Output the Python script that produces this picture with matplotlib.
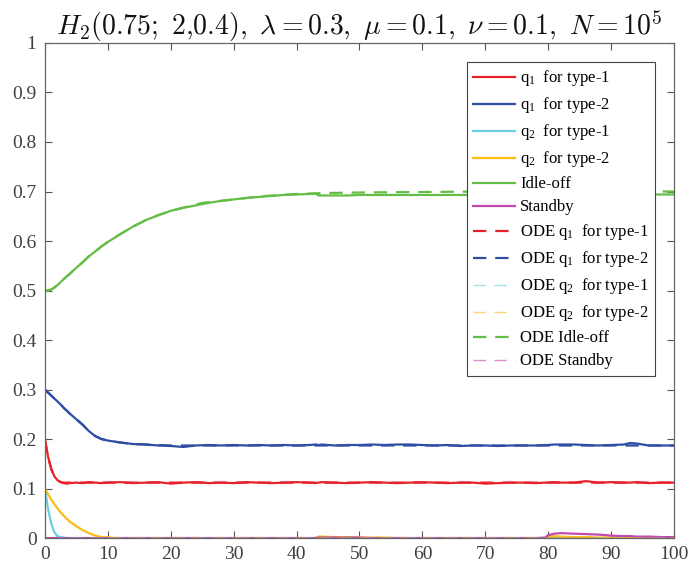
import matplotlib
matplotlib.use("Agg")
import matplotlib.pyplot as plt

# simulation traces
t_sim = [0, 0.5, 1, 1.5, 2, 2.5, 3, 3.5, 4, 5, 6, 7, 8, 9, 10, 12, 14, 16, 18, 20,
         22, 24, 26, 28, 30, 32, 34, 36, 38, 40, 42, 43, 43.5, 44, 46, 48, 50, 52, 54,
         56, 58, 60, 62, 64, 66, 68, 70, 72, 74, 76, 78, 79.5, 80, 81, 82, 84, 86,
         88, 90, 92, 93, 94, 96, 98, 100]
q1_type1 = [0.200, 0.165, 0.140, 0.125, 0.117, 0.113, 0.111, 0.110, 0.111, 0.112, 0.111, 0.113, 0.112, 0.111, 0.112, 0.113, 0.111, 0.112, 0.113, 0.110,
            0.112, 0.113, 0.111, 0.112, 0.111, 0.113, 0.112, 0.111, 0.112, 0.113, 0.112, 0.111, 0.112, 0.113, 0.112, 0.111, 0.112, 0.113, 0.112,
            0.111, 0.112, 0.113, 0.112, 0.111, 0.112, 0.112, 0.110, 0.111, 0.112, 0.112, 0.111, 0.112, 0.112, 0.113, 0.112, 0.112, 0.115,
            0.112, 0.113, 0.112, 0.112, 0.113, 0.111, 0.112, 0.112]
q1_type2 = [0.300, 0.294, 0.288, 0.282, 0.276, 0.270, 0.263, 0.257, 0.251, 0.240, 0.229, 0.216, 0.206, 0.200, 0.197, 0.193, 0.190, 0.189, 0.187, 0.186,
            0.184, 0.187, 0.188, 0.187, 0.188, 0.187, 0.188, 0.187, 0.188, 0.187, 0.188, 0.189, 0.188, 0.189, 0.187, 0.188, 0.188, 0.189, 0.188,
            0.189, 0.189, 0.188, 0.187, 0.188, 0.186, 0.187, 0.187, 0.186, 0.187, 0.187, 0.187, 0.188, 0.188, 0.189, 0.189, 0.189, 0.188,
            0.187, 0.188, 0.189, 0.192, 0.191, 0.187, 0.187, 0.187]
q2_type1 = [0.100, 0.060, 0.030, 0.012, 0.004, 0.002, 0.001, 0.000, 0.000, 0.000, 0.000, 0.000, 0.000, 0.000, 0.000, 0.000, 0.000, 0.000, 0.000, 0.000,
            0.000, 0.000, 0.000, 0.000, 0.000, 0.000, 0.000, 0.000, 0.000, 0.000, 0.000, 0.000, 0.000, 0.000, 0.000, 0.000, 0.000, 0.000, 0.000,
            0.000, 0.000, 0.000, 0.000, 0.000, 0.000, 0.000, 0.000, 0.000, 0.000, 0.000, 0.000, 0.000, 0.000, 0.000, 0.000, 0.000, 0.000,
            0.000, 0.000, 0.000, 0.000, 0.000, 0.000, 0.000, 0.000]
q2_type2 = [0.100, 0.089, 0.078, 0.069, 0.060, 0.052, 0.045, 0.039, 0.033, 0.024, 0.016, 0.010, 0.005, 0.002, 0.001, 0.000, 0.000, 0.000, 0.000, 0.000,
            0.000, 0.000, 0.000, 0.000, 0.000, 0.000, 0.000, 0.000, 0.000, 0.000, 0.000, 0.000, 0.003, 0.003, 0.002, 0.002, 0.001, 0.001, 0.001,
            0.000, 0.000, 0.000, 0.000, 0.000, 0.000, 0.000, 0.000, 0.000, 0.000, 0.000, 0.000, 0.000, 0.003, 0.004, 0.003, 0.002, 0.002,
            0.001, 0.001, 0.001, 0.000, 0.000, 0.000, 0.000, 0.000]
idle_off = [0.500, 0.500, 0.502, 0.506, 0.511, 0.517, 0.523, 0.529, 0.534, 0.546, 0.557, 0.569, 0.579, 0.589, 0.598, 0.614, 0.629, 0.642, 0.652, 0.661,
            0.667, 0.672, 0.677, 0.681, 0.684, 0.687, 0.689, 0.691, 0.693, 0.694, 0.695, 0.696, 0.692, 0.692, 0.692, 0.692, 0.693, 0.693, 0.693,
            0.693, 0.693, 0.693, 0.693, 0.693, 0.693, 0.693, 0.693, 0.693, 0.693, 0.694, 0.694, 0.694, 0.694, 0.694, 0.694, 0.694, 0.694,
            0.694, 0.694, 0.694, 0.694, 0.694, 0.694, 0.694, 0.694]
standby = [0.000, 0.000, 0.000, 0.000, 0.000, 0.000, 0.000, 0.000, 0.000, 0.000, 0.000, 0.000, 0.000, 0.000, 0.000, 0.000, 0.000, 0.000, 0.000, 0.000,
           0.000, 0.000, 0.000, 0.000, 0.000, 0.000, 0.000, 0.000, 0.000, 0.000, 0.000, 0.000, 0.001, 0.001, 0.001, 0.001, 0.001, 0.000, 0.000,
           0.000, 0.000, 0.000, 0.000, 0.000, 0.000, 0.000, 0.000, 0.000, 0.000, 0.000, 0.000, 0.001, 0.006, 0.009, 0.010, 0.009, 0.008,
           0.007, 0.005, 0.004, 0.004, 0.003, 0.003, 0.002, 0.002]

# ODE traces (smooth)
t_ode = [0, 0.5, 1, 1.5, 2, 2.5, 3, 4, 5, 6, 7, 8, 9, 10, 12, 14, 16, 18, 20, 25, 30, 35, 40, 45, 50, 60, 70, 80, 90, 100]
ode_q1_type1 = [0.200, 0.165, 0.140, 0.125, 0.117, 0.113, 0.112, 0.112, 0.112, 0.112, 0.112, 0.112, 0.112, 0.112, 0.112, 0.112, 0.112, 0.112, 0.112, 0.112,
                0.112, 0.112, 0.112, 0.112, 0.112, 0.112, 0.112, 0.112, 0.112, 0.112]
ode_q1_type2 = [0.300, 0.294, 0.288, 0.282, 0.276, 0.270, 0.263, 0.251, 0.240, 0.229, 0.216, 0.206, 0.200, 0.197, 0.193, 0.190, 0.189, 0.188, 0.187, 0.187,
                0.187, 0.187, 0.187, 0.187, 0.187, 0.187, 0.187, 0.187, 0.187, 0.187]
ode_q2_type1 = [0.100, 0.060, 0.030, 0.012, 0.004, 0.002, 0.001, 0.000, 0.000, 0.000, 0.000, 0.000, 0.000, 0.000, 0.000, 0.000, 0.000, 0.000, 0.000, 0.000,
                0.000, 0.000, 0.000, 0.000, 0.000, 0.000, 0.000, 0.000, 0.000, 0.000]
ode_q2_type2 = [0.100, 0.089, 0.078, 0.069, 0.060, 0.052, 0.045, 0.033, 0.024, 0.016, 0.010, 0.005, 0.002, 0.001, 0.000, 0.000, 0.000, 0.000, 0.000, 0.000,
                0.000, 0.000, 0.000, 0.000, 0.000, 0.000, 0.000, 0.000, 0.000, 0.000]
ode_idle_off = [0.500, 0.500, 0.502, 0.506, 0.511, 0.517, 0.523, 0.534, 0.546, 0.557, 0.569, 0.579, 0.589, 0.598, 0.614, 0.629, 0.642, 0.652, 0.661, 0.677,
                0.684, 0.691, 0.695, 0.697, 0.698, 0.699, 0.700, 0.700, 0.700, 0.700]
ode_standby = [0.0] * len(t_ode)

labels = ["q$\\mathregular{_1}$  for type-1", "q$\\mathregular{_1}$  for type-2",
          "q$\\mathregular{_2}$  for type-1", "q$\\mathregular{_2}$  for type-2",
          "Idle-off", "Standby"]
colors = ["#e8222a", "#2f4ea3", "#6ccfe4", "#fdbd16", "#64bd45", "#c04aad"]

plt.rcParams['font.family'] = ['Liberation Serif', 'DejaVu Serif']
plt.rcParams['mathtext.fontset'] = 'cm'

fig = plt.figure(figsize=(6.9, 5.7), dpi=100)
ax = fig.add_axes([0.065, 0.056, 0.912, 0.8686])

sims = [q1_type1, q1_type2, q2_type1, q2_type2, idle_off, standby]
odes = [ode_q1_type1, ode_q1_type2, ode_q2_type1, ode_q2_type2, ode_idle_off, ode_standby]
for y, c, lab in zip(sims, colors, labels):
    ax.plot(t_sim, y, color=c, lw=1.6, label=lab)
for i, (y, c, lab) in enumerate(zip(odes, colors, labels)):
    thin = i in (2, 3, 5)
    ax.plot(t_ode, y, color=c, lw=1.0 if thin else 1.6, alpha=0.6 if thin else 1.0,
            dashes=(9, 6) if thin else (6, 4), label="ODE " + lab)

ax.set_xlim(0, 100)
ax.set_ylim(0, 1)
ax.set_xticks(range(0, 101, 10))
ax.set_yticks([i / 10 for i in range(11)])
ax.set_yticklabels(["0"] + [f"0.{i}" for i in range(1, 10)] + ["1"])
ax.tick_params(direction='in', length=5, width=0.8, top=True, right=True,
               colors='#555555', labelcolor='#404040', labelsize=14, pad=6)
for s in ax.spines.values():
    s.set_color('#666666')
    s.set_linewidth(0.9)

ax.set_title(r"$H_2(0.75;\ 2{,}0.4),\ \lambda=0.3,\ \mu=0.1,\ \nu=0.1,\ N=10^5$",
             fontsize=20, color='#111111', pad=6)

leg = ax.legend(loc='upper right', bbox_to_anchor=(0.97, 0.962), borderaxespad=0,
                fontsize=12, handlelength=2.5, handletextpad=0.3, labelspacing=0.42,
                borderpad=0.4, fancybox=False, framealpha=1)
leg.get_frame().set_edgecolor('#444444')
leg.get_frame().set_linewidth(0.8)

fig.savefig("out.png", dpi=100)
